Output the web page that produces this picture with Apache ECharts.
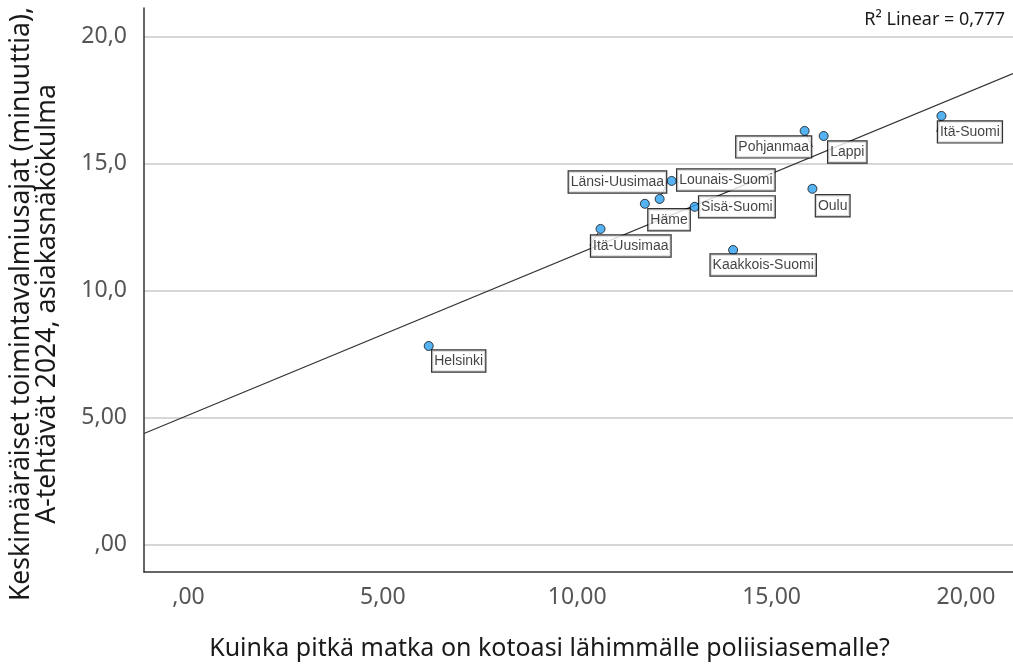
<!DOCTYPE html>
<html>
<head>
<meta charset="utf-8">
<script src="https://cdn.jsdelivr.net/npm/echarts@6/dist/echarts.min.js"></script>
<style>
  html, body { margin: 0; padding: 0; background: #fff; }
  #chart { width: 1013px; height: 666px; }
</style>
</head>
<body>
<div id="chart"></div>
<script>
// alueet ja arvot (luettu kuvasta)
const regions = ['Helsinki', 'Itä-Uusimaa', 'Häme', 'Länsi-Uusimaa', 'Lounais-Suomi', 'Sisä-Suomi',
  'Kaakkois-Suomi', 'Pohjanmaa', 'Oulu', 'Lappi', 'Itä-Suomi']
const distance = [6.18, 10.60, 11.74, 12.12, 12.43, 13.02, 14.01, 15.85, 16.05, 16.34, 19.37]
const responseTime = [7.83, 12.44, 13.43, 13.62, 14.33, 13.31, 11.61, 16.30, 14.02, 16.10, 16.89]
const xTickLabels = {0: ',00', 5: '5,00', 10: '10,00', 15: '15,00', 20: '20,00'}
const yTickLabels = {0: ',00', 5: '5,00', 10: '10,0', 15: '15,0', 20: '20,0'}
const r2Text = 'R² Linear = 0,777'

// label box placement: offset from point centre, anchor side, leader line
const labelPlace = {
  'Helsinki': [4, 5, 'left', 'top', false],
  'Itä-Uusimaa': [-9, 7, 'left', 'top', true],
  'Häme': [4, 6, 'left', 'top', false],
  'Länsi-Uusimaa': [7, -6, 'right', 'bottom', true],
  'Lounais-Suomi': [6, -11, 'left', 'top', false],
  'Sisä-Suomi': [5, -10, 'left', 'top', false],
  'Kaakkois-Suomi': [-22, 5, 'left', 'top', false],
  'Pohjanmaa': [7, 6, 'right', 'top', true],
  'Oulu': [4, 7, 'left', 'top', false],
  'Lappi': [5, 6, 'left', 'top', false],
  'Itä-Suomi': [-3, 6, 'left', 'top', true]
}

const X_MIN = -1.144, X_MAX = 21.21
const SYM = 9

// pienimmän neliösumman suora
const fitLine = () => {
  const n = distance.length
  const mx = distance.reduce((a, b) => a + b, 0) / n
  const my = responseTime.reduce((a, b) => a + b, 0) / n
  let sxy = 0, sxx = 0
  for (let i = 0; i < n; i++) {
    sxy += (distance[i] - mx) * (responseTime[i] - my)
    sxx += (distance[i] - mx) ** 2
  }
  const k = sxy / sxx
  const b = my - k * mx
  return [[X_MIN, b + k * X_MIN], [X_MAX, b + k * X_MAX]]
}

const points = regions.map((name, i) => {
  const p = labelPlace[name]
  return {
    name,
    value: [distance[i], responseTime[i]],
    label: {
      position: [SYM / 2 + p[0], SYM / 2 + p[1]],
      align: p[2],
      verticalAlign: p[3]
    },
    labelLine: {show: p[4]}
  }
})

const myChart = echarts.init(document.getElementById('chart'))
const option = {
  animation: false,
  backgroundColor: '#fff',
  title: {
    text: r2Text,
    right: 3,
    top: 6,
    textStyle: {fontFamily: 'Noto Sans', fontSize: 18, fontWeight: 'normal', color: '#1a1a1a'}
  },
  grid: {left: 144, right: 0, top: 8, bottom: 94, outerBoundsMode: 'none'},
  xAxis: {
    type: 'value',
    min: X_MIN,
    max: X_MAX,
    name: 'Kuinka pitkä matka on kotoasi lähimmälle poliisiasemalle?',
    nameLocation: 'middle',
    nameGap: 64,
    nameTextStyle: {fontFamily: 'Noto Sans', fontSize: 25, color: '#1a1a1a', padding: [0, 58, 0, 0]},
    axisLine: {show: true, onZero: false, lineStyle: {color: '#333', width: 1.5}},
    axisTick: {show: false},
    splitLine: {show: false},
    axisLabel: {
      margin: 14,
      fontFamily: 'Noto Sans',
      fontSize: 23,
      color: '#555',
      showMinLabel: false,
      showMaxLabel: false,
      formatter: (v) => xTickLabels[v] ?? ''
    }
  },
  yAxis: {
    type: 'value',
    min: -1.07,
    max: 21.14,
    name: 'Keskimääräiset toimintavalmiusajat (minuuttia),\nA-tehtävät 2024, asiakasnäkökulma',
    nameLocation: 'middle',
    nameGap: 84,
    nameTextStyle: {fontFamily: 'Noto Sans', fontSize: 26.5, color: '#1a1a1a', lineHeight: 26, padding: [0, 28, 0, 0]},
    axisLine: {show: true, onZero: false, lineStyle: {color: '#333', width: 1.5}},
    axisTick: {show: false},
    splitLine: {show: true, showMinLine: false, showMaxLine: false, lineStyle: {color: '#c8c8c8', width: 1.5}},
    axisLabel: {
      margin: 17,
      fontFamily: 'Noto Sans',
      fontSize: 23,
      color: '#555',
      showMinLabel: false,
      showMaxLabel: false,
      formatter: (v) => yTickLabels[v] ?? ''
    }
  },
  series: [
    {
      name: 'fit',
      type: 'line',
      data: fitLine(),
      showSymbol: false,
      silent: true,
      lineStyle: {color: '#333', width: 1.2},
      z: 2
    },
    {
      name: 'alueet',
      type: 'scatter',
      symbolSize: SYM,
      data: points,
      itemStyle: {color: '#2b9ff0', borderColor: '#111', borderWidth: 1},
      label: {
        show: true,
        formatter: '{b}',
        fontFamily: 'Liberation Sans',
        fontSize: 14,
        color: '#111',
        backgroundColor: '#fff',
        borderColor: '#000',
        borderWidth: 1.2,
        padding: [4, 2, 3, 2]
      },
      labelLine: {lineStyle: {color: '#333', width: 1}},
      z: 3
    }
  ]
}
option && myChart.setOption(option)
</script>
</body>
</html>
